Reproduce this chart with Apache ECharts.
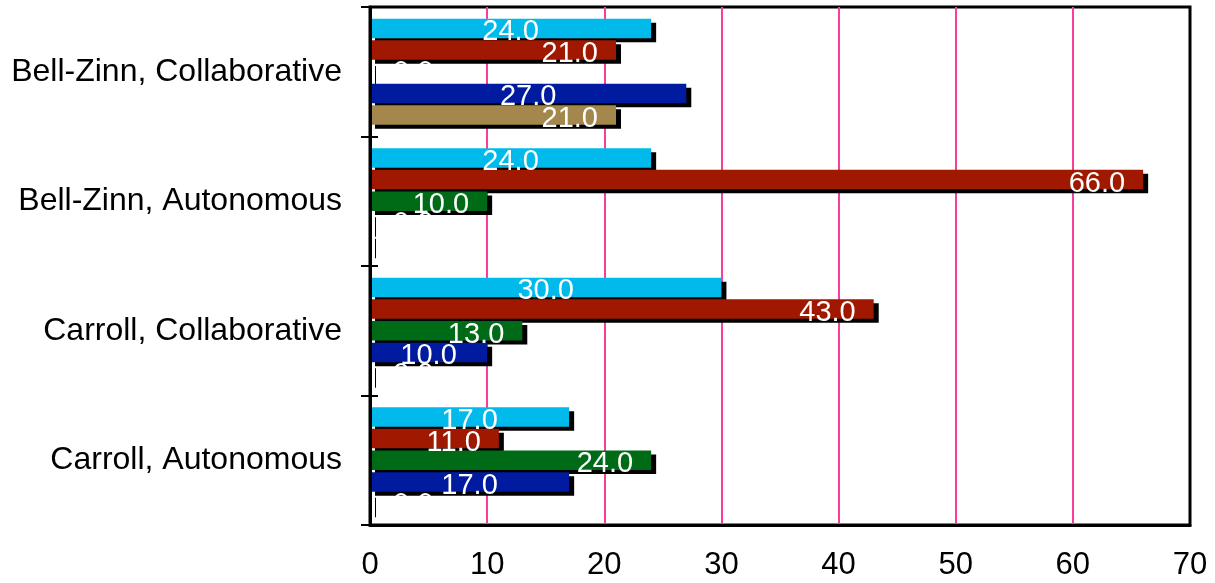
<!DOCTYPE html>
<html>
<head>
<meta charset="utf-8">
<script src="https://cdn.jsdelivr.net/npm/echarts@6/dist/echarts.min.js"></script>
<style>
  html, body { margin: 0; padding: 0; background: #ffffff; }
  #chart { width: 1215px; height: 583px; }
</style>
</head>
<body>
<div id="chart"></div>
<script>
// Categories, listed top to bottom
const categories = [
  'Bell-Zinn, Collaborative',
  'Bell-Zinn, Autonomous',
  'Carroll, Collaborative',
  'Carroll, Autonomous'
];

// Series values, one entry per category (same order as above)
const cyanValues  = [24, 24, 30, 17];
const redValues   = [21, 66, 43, 11];
const greenValues = [0, 10, 13, 24];
const blueValues  = [27, 0, 10, 17];
const tanValues   = [21, 0, 0, 0];

// Value axis ticks
const xMin = 0;
const xMax = 70;
const xStep = 10;

const FONT = '"Liberation Sans", Arial, Helvetica, sans-serif';

const seriesDefs = [
  { name: 'Cyan',  values: cyanValues,  color: '#00baec', place: 'inside' },
  { name: 'Red',   values: redValues,   color: '#a11800', place: 'insideRight' },
  { name: 'Green', values: greenValues, color: '#006b17', place: 'insideRight' },
  { name: 'Blue',  values: blueValues,  color: '#001b9f', place: 'inside' },
  { name: 'Tan',   values: tanValues,   color: '#a3874c', place: 'insideRight' }
];

function buildData(def) {
  return def.values.map(function (v) {
    if (v === 0) {
      // empty bars keep their value label just right of the axis
      return {
        value: v,
        label: { position: [23, '50%'], align: 'left', verticalAlign: 'middle', offset: [0, 1] }
      };
    }
    return v;
  });
}

const series = seriesDefs.map(function (def) {
  return {
    name: def.name,
    type: 'bar',
    yAxisIndex: 0,
    data: buildData(def),
    barCategoryGap: '18%',
    barGap: '11%',
    barMinHeight: 1,
    itemStyle: {
      color: def.color,
      shadowColor: '#000000',
      shadowBlur: 0,
      shadowOffsetX: 5,
      shadowOffsetY: 4
    },
    label: {
      show: true,
      position: def.place,
      distance: 18,
      offset: [0, 4],
      color: '#ffffff',
      fontFamily: FONT,
      fontSize: 29,
      formatter: function (p) { return Number(p.value).toFixed(1); }
    },
    emphasis: { disabled: true }
  };
});

const chart = echarts.init(document.getElementById('chart'), null, { renderer: 'canvas' });

chart.setOption({
  animation: false,
  backgroundColor: '#ffffff',
  grid: {
    left: 370, right: 25, top: 7, bottom: 58,
    show: true,
    borderColor: '#000000',
    borderWidth: 3,
    backgroundColor: 'transparent'
  },
  xAxis: {
    type: 'value',
    min: xMin, max: xMax, interval: xStep,
    axisLine: { show: true, lineStyle: { color: '#000000', width: 3 } },
    axisTick: { show: false },
    axisLabel: { color: '#000000', fontFamily: FONT, fontSize: 31, margin: 25 },
    splitLine: {
      show: true,
      showMinLine: false,
      showMaxLine: false,
      lineStyle: { color: '#fa3c9c', width: 2 }
    }
  },
  yAxis: [
    {
      type: 'category',
      data: categories,
      inverse: true,
      position: 'left',
      z: 5,
      axisLine: { show: true, lineStyle: { color: '#000000', width: 3 } },
      axisTick: { show: true, length: 9, lineStyle: { color: '#000000', width: 2 } },
      axisLabel: { color: '#000000', fontFamily: FONT, fontSize: 32, margin: 28 },
      splitLine: { show: false }
    },
    {
      // inner half of the category ticks
      type: 'category',
      data: categories,
      inverse: true,
      position: 'left',
      z: 5,
      axisLine: { show: false },
      axisTick: { show: true, inside: true, length: 8, lineStyle: { color: '#000000', width: 2 } },
      axisLabel: { show: false },
      splitLine: { show: false }
    }
  ],
  series: series
});
</script>
</body>
</html>
